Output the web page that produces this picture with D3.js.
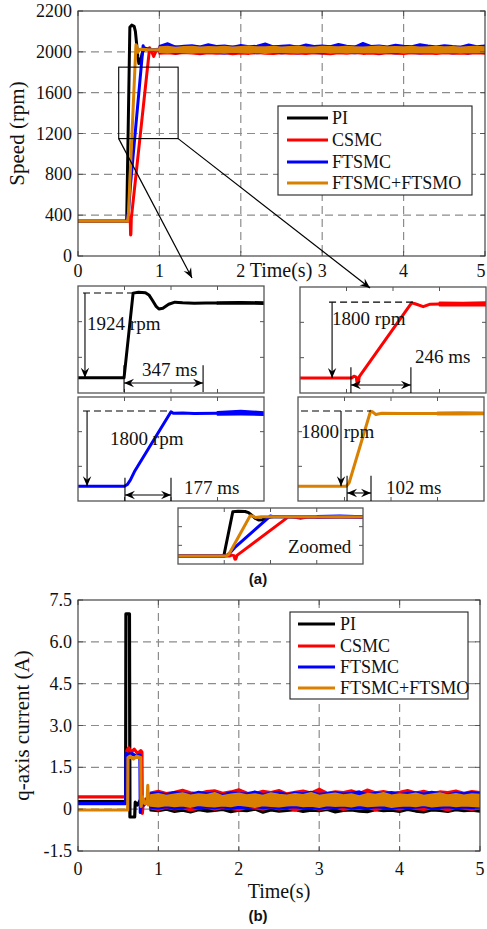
<!DOCTYPE html>
<html><head><meta charset="utf-8">
<script src="https://cdn.jsdelivr.net/npm/d3@7"></script>
<style>
body{margin:0;background:#fff}
svg{display:block}
</style></head><body>
<svg id="c" width="487" height="929" font-family="'Liberation Serif','Tinos','Times New Roman','DejaVu Serif',serif"></svg>
<script>
// ---------------- DATA ----------------
const seriesNames = ["PI","CSMC","FTSMC","FTSMC+FTSMO"];
const seriesColors = ["#000000","#ff0000","#0000ff","#d98000"];

// speed axis ticks (top tick is labelled 2200 in the original figure)
const speedTicks = [0,400,800,1200,1600,2000,2400];
const speedTickLabels = ["0","400","800","1200","1600","2000","2200"];
const timeTicks = [0,1,2,3,4,5];
const currentTicks = [-1.5,0,1.5,3,4.5,6,7.5];
const currentTickLabels = ["-1.5","0","1.5","3.0","4.5","6.0","7.5"];

// speed transients (time s, rpm)
const spdT_PI    = [0,0.598,0.637,0.66,0.69,0.705,0.72,0.735,0.748,0.765,0.79,0.817,0.85,0.9,0.95,1.0];
const spd_PI     = [340,340,2240,2262,2250,2200,2080,1950,1885,1900,1990,2038,2025,2012,2018,2016];
const spdT_CSMC  = [0,0.622,0.632,0.642,0.646,0.65,0.655,0.88,0.895,0.93,0.96,1.0];
const spd_CSMC   = [340,340,380,360,205,215,370,2040,2020,1955,2012,2016];
const spdT_FTSMC = [0,0.600,0.612,0.625,0.645,0.800,0.81,0.85,0.9,1.0];
const spd_FTSMC  = [340,340,380,480,700,2060,2025,2030,2020,2025];
const spdT_FTSMO = [0,0.608,0.62,0.712,0.72,0.735,0.76,0.85,1.0];
const spd_FTSMO  = [340,340,420,2070,2060,1995,2025,2022,2020];

// speed steady-state noise envelopes, sampled every 0.1 s from 1.0 to 5.0 s
const spdSteadyT = [1.0,1.1,1.2,1.3,1.4,1.5,1.6,1.7,1.8,1.9,2.0,2.1,2.2,2.3,2.4,2.5,2.6,2.7,2.8,2.9,3.0,3.1,3.2,3.3,3.4,3.5,3.6,3.7,3.8,3.9,4.0,4.1,4.2,4.3,4.4,4.5,4.6,4.7,4.8,4.9,5.0];
const spdHi_PI = [2040,2045,2038,2042,2050,2040,2036,2044,2048,2039,2042,2046,2040,2052,2038,2044,2041,2047,2039,2045,2050,2040,2043,2038,2046,2049,2041,2037,2044,2048,2042,2039,2045,2051,2040,2043,2038,2046,2042,2040,2044];
const spdLo_PI = [1998,2000,1996,2002,1995,1999,2001,1997,1994,2000,1998,2003,1996,1999,2001,1995,1998,2000,1997,2002,1996,1999,1994,2001,1998,1997,2000,1995,1999,2002,1996,1998,2001,1997,1995,2000,1998,1996,2001,1999,1997];
const spdHi_CSMC = [2050,2045,2055,2048,2058,2052,2046,2056,2049,2054,2047,2056,2050,2045,2058,2051,2048,2057,2044,2053,2049,2056,2046,2052,2055,2048,2058,2050,2045,2054,2049,2056,2047,2053,2050,2056,2045,2052,2056,2049,2051];
const spdLo_CSMC = [1980,1985,1978,1988,1982,1976,1986,1980,1984,1975,1983,1979,1987,1981,1977,1985,1980,1983,1978,1986,1981,1976,1984,1980,1987,1979,1982,1976,1985,1981,1978,1984,1980,1983,1977,1986,1980,1982,1979,1985,1981];
const spdHi_FTSMC = [2058,2085,2052,2060,2066,2054,2075,2058,2063,2050,2068,2056,2060,2082,2054,2060,2066,2052,2072,2058,2063,2055,2078,2060,2052,2088,2058,2064,2054,2070,2060,2056,2076,2062,2054,2066,2058,2052,2074,2056,2062];
const spdLo_FTSMC = [1988,1992,1985,1990,1994,1986,1991,1988,1983,1990,1987,1993,1985,1989,1992,1986,1990,1984,1991,1988,1986,1993,1987,1990,1984,1989,1992,1986,1990,1985,1991,1988,1984,1990,1987,1992,1986,1989,1985,1991,1988];
const spdHi_FTSMO = [2045,2050,2042,2048,2052,2044,2049,2046,2051,2043,2048,2053,2045,2047,2050,2044,2049,2052,2046,2043,2050,2048,2045,2051,2047,2044,2049,2053,2046,2048,2045,2050,2043,2047,2051,2046,2049,2044,2048,2050,2046];
const spdLo_FTSMO = [1995,1991,1997,1993,1989,1996,1992,1994,1990,1997,1993,1991,1995,1988,1994,1996,1992,1990,1995,1993,1997,1991,1994,1989,1996,1992,1995,1990,1993,1997,1991,1994,1992,1996,1989,1993,1995,1991,1994,1992,1996];

// q-axis current transients (time s, A)
const curT_PI    = [0,0.592,0.596,0.640,0.646,0.705,0.712,0.74,0.78,0.82,0.86,0.9];
const cur_PI     = [0.27,0.27,7.0,7.0,-0.28,-0.28,0.25,0.15,0.35,0.2,0.3,0.25];
const curT_CSMC  = [0,0.604,0.608,0.63,0.66,0.70,0.74,0.78,0.795,0.80,0.815,0.84,0.87,0.9];
const cur_CSMC   = [0.44,0.44,2.1,2.2,2.05,2.15,2.0,2.1,2.05,-0.15,0.35,0.2,0.45,0.3];
const curT_FTSMC = [0,0.594,0.598,0.63,0.67,0.72,0.77,0.775,0.79,0.82,0.86,0.9];
const cur_FTSMC  = [0.2,0.2,2.0,1.95,2.0,1.9,1.95,-0.12,0.35,0.15,0.4,0.3];
const curT_FTSMO = [0,0.618,0.622,0.65,0.69,0.73,0.78,0.785,0.80,0.83,0.86,0.868,0.875,0.9];
const cur_FTSMO  = [-0.03,-0.03,1.85,1.9,1.8,1.9,1.85,0.1,0.45,0.2,0.3,0.85,0.15,0.35];

// current steady-state noise envelopes, every 0.1 s from 0.9 to 5.0 s
const curSteadyT = [0.9,1.0,1.1,1.2,1.3,1.4,1.5,1.6,1.7,1.8,1.9,2.0,2.1,2.2,2.3,2.4,2.5,2.6,2.7,2.8,2.9,3.0,3.1,3.2,3.3,3.4,3.5,3.6,3.7,3.8,3.9,4.0,4.1,4.2,4.3,4.4,4.5,4.6,4.7,4.8,4.9,5.0];
const curHi_PI = [0.42,0.45,0.40,0.46,0.43,0.48,0.41,0.44,0.47,0.42,0.45,0.40,0.46,0.43,0.41,0.47,0.44,0.42,0.45,0.48,0.41,0.43,0.46,0.40,0.44,0.47,0.42,0.45,0.43,0.41,0.46,0.44,0.48,0.42,0.45,0.40,0.43,0.47,0.44,0.41,0.45,0.43];
const curLo_PI = [-0.05,-0.08,-0.02,-0.10,-0.06,-0.12,-0.04,-0.09,-0.07,-0.03,-0.11,-0.06,-0.08,-0.02,-0.13,-0.05,-0.09,-0.07,-0.04,-0.10,-0.06,-0.08,-0.03,-0.12,-0.07,-0.05,-0.09,-0.11,-0.04,-0.08,-0.06,-0.10,-0.03,-0.09,-0.12,-0.05,-0.07,-0.10,-0.04,-0.08,-0.06,-0.09];
const curHi_CSMC = [0.60,0.66,0.58,0.63,0.70,0.61,0.57,0.65,0.68,0.59,0.64,0.72,0.60,0.58,0.66,0.62,0.69,0.57,0.63,0.67,0.60,0.74,0.59,0.64,0.62,0.68,0.58,0.71,0.61,0.65,0.59,0.63,0.69,0.60,0.66,0.58,0.64,0.62,0.67,0.59,0.65,0.62];
const curLo_CSMC = [0.02,-0.03,0.04,-0.01,0.03,-0.05,0.01,0.05,-0.02,0.03,0.00,-0.04,0.04,0.02,-0.02,0.05,-0.01,0.03,-0.05,0.02,0.04,-0.02,0.01,0.05,-0.03,0.02,0.00,0.04,-0.04,0.03,0.01,-0.02,0.05,0.00,-0.03,0.03,0.02,-0.05,0.04,0.01,-0.03,0.02];
const curHi_FTSMC = [0.57,0.60,0.54,0.62,0.58,0.55,0.63,0.57,0.60,0.53,0.61,0.58,0.56,0.64,0.55,0.59,0.62,0.54,0.60,0.57,0.63,0.55,0.58,0.61,0.56,0.59,0.64,0.54,0.60,0.57,0.62,0.55,0.59,0.61,0.56,0.63,0.58,0.54,0.60,0.57,0.62,0.58];
const curLo_FTSMC = [0.05,0.02,0.07,0.00,0.04,0.08,0.01,0.06,0.03,0.07,0.00,0.05,0.02,0.08,0.03,0.06,0.01,0.04,0.07,0.02,0.05,0.00,0.06,0.03,0.08,0.02,0.05,0.01,0.07,0.04,0.00,0.06,0.03,0.05,0.08,0.01,0.04,0.07,0.02,0.06,0.03,0.05];
const curHi_FTSMO = [0.50,0.55,0.48,0.53,0.57,0.49,0.54,0.51,0.58,0.47,0.53,0.56,0.50,0.54,0.48,0.57,0.52,0.49,0.55,0.51,0.58,0.48,0.53,0.56,0.50,0.54,0.47,0.55,0.52,0.58,0.49,0.54,0.51,0.56,0.48,0.53,0.57,0.50,0.55,0.49,0.54,0.52];
const curLo_FTSMO = [0.12,0.09,0.14,0.10,0.13,0.08,0.15,0.11,0.09,0.13,0.10,0.16,0.12,0.08,0.14,0.11,0.09,0.13,0.15,0.10,0.12,0.08,0.14,0.11,0.13,0.09,0.15,0.10,0.12,0.14,0.08,0.11,0.13,0.10,0.15,0.09,0.12,0.14,0.10,0.13,0.11,0.09];

// zoom-in panels: time window / rpm window, annotations
const panelTimeDomain = [0.4,1.2];
const panelSpeedDomain = [0,2400];
const panelTimeTicks = [0.6,0.8,1.0];
const panelSpeedTicks = [800,1600];
const annRise = ["1924 rpm","1800 rpm","1800 rpm","1800 rpm"];
const annTime = ["347 ms","246 ms","177 ms","102 ms"];
const annTopLevel = [2243,2057,2077,2077];
const annDash = [[0.4215,0.641],[0.525,0.886],[0.4215,0.80],[0.413,0.714]];
const annArrowT = [0.430,0.538,0.439,0.585];
const annRiseText = [[0.439,1413],[0.538,1537],[0.538,1292],[0.413,1454]];
const annSpan = [[0.598,0.938],[0.619,0.877],[0.602,0.80],[0.611,0.714]];
const annSpanLevel = [224,181,138,185];
const annTimeText = [[0.675,381],[0.895,678],[0.856,162],[0.778,162]];
const zoomRectT = [0.5,1.23];
const zoomRectV = [1150,1850];

// ---------------- DRAW ----------------
const svg = d3.select("#c");
const defs = svg.append("defs");
defs.append("marker").attr("id","ah").attr("viewBox","-11 -5 12 10")
  .attr("refX",0).attr("refY",0).attr("markerWidth",12).attr("markerHeight",10)
  .attr("markerUnits","userSpaceOnUse").attr("orient","auto-start-reverse")
  .append("path").attr("d","M0,0L-10,-4.2L-6.5,0L-10,4.2Z").attr("fill","#000");

const spdT = [spdT_PI,spdT_CSMC,spdT_FTSMC,spdT_FTSMO];
const spdV = [spd_PI,spd_CSMC,spd_FTSMC,spd_FTSMO];
const spdHi = [spdHi_PI,spdHi_CSMC,spdHi_FTSMC,spdHi_FTSMO];
const spdLo = [spdLo_PI,spdLo_CSMC,spdLo_FTSMC,spdLo_FTSMO];
const curT = [curT_PI,curT_CSMC,curT_FTSMC,curT_FTSMO];
const curV = [cur_PI,cur_CSMC,cur_FTSMC,cur_FTSMO];
const curHi = [curHi_PI,curHi_CSMC,curHi_FTSMC,curHi_FTSMO];
const curLo = [curLo_PI,curLo_CSMC,curLo_FTSMC,curLo_FTSMO];

function txt(x,y,s,size,anchor){
  return svg.append("text").attr("x",x).attr("y",y).attr("font-size",size)
    .attr("text-anchor",anchor||"start").attr("fill","#111").text(s);
}

let clipN = 0;
function clipFor(x0,y0,w,h){
  const id = "clip"+(clipN++);
  defs.append("clipPath").attr("id",id).append("rect").attr("x",x0).attr("y",y0).attr("width",w).attr("height",h);
  return "url(#"+id+")";
}

function drawSeries(g,x,y,T,V,ST,SL,SU,color,sw){
  g.append("path").datum(ST.map((t,i)=>[t,SL[i],SU[i]]))
    .attr("d",d3.area().x(d=>x(d[0])).y0(d=>y(d[1])).y1(d=>y(d[2])))
    .attr("fill",color).attr("stroke",color).attr("stroke-width",sw*0.6).attr("stroke-linejoin","round");
  g.append("path").datum(T.map((t,i)=>[t,V[i]]))
    .attr("d",d3.line().x(d=>x(d[0])).y(d=>y(d[1])))
    .attr("fill","none").attr("stroke",color).attr("stroke-width",sw).attr("stroke-linejoin","round");
}

function mainAxes(x,y,xTicks,yTicks,yLabels,xLabelY){
  const [x0,x1] = x.range(), [y0,y1] = y.range(); // y0 bottom
  const g = svg.append("g");
  g.append("rect").attr("x",x0).attr("y",y1).attr("width",x1-x0).attr("height",y0-y1).attr("fill","#fff");
  xTicks.slice(1,-1).forEach(t=>g.append("line").attr("x1",x(t)).attr("x2",x(t)).attr("y1",y1).attr("y2",y0)
    .attr("stroke","#8c8c8c").attr("stroke-width",1.2).attr("stroke-dasharray","8,5"));
  yTicks.slice(1,-1).forEach(v=>g.append("line").attr("x1",x0).attr("x2",x1).attr("y1",y(v)).attr("y2",y(v))
    .attr("stroke","#8c8c8c").attr("stroke-width",1.2).attr("stroke-dasharray","8,5"));
  xTicks.forEach(t=>txt(Math.min(x(t),481),xLabelY,String(t),18,"middle"));
  yTicks.forEach((v,i)=>txt(x0-6,y(v)+6,yLabels[i],18,"end"));
}
function mainFrame(x,y,xTicks,yTicks){
  const [x0,x1] = x.range(), [y0,y1] = y.range();
  const g = svg.append("g");
  xTicks.forEach(t=>{
    g.append("line").attr("x1",x(t)).attr("x2",x(t)).attr("y1",y0).attr("y2",y0-5).attr("stroke","#555");
    g.append("line").attr("x1",x(t)).attr("x2",x(t)).attr("y1",y1).attr("y2",y1+5).attr("stroke","#555");
  });
  yTicks.forEach(v=>{
    g.append("line").attr("x1",x0).attr("x2",x0+5).attr("y1",y(v)).attr("y2",y(v)).attr("stroke","#555");
    g.append("line").attr("x1",x1).attr("x2",x1-5).attr("y1",y(v)).attr("y2",y(v)).attr("stroke","#555");
  });
  g.append("rect").attr("x",x0).attr("y",y1).attr("width",x1-x0).attr("height",y0-y1)
    .attr("fill","none").attr("stroke","#333").attr("stroke-width",1.1);
}
function legend(x0,y0,w,h,lineX0,lineX1,textX,rowY){
  const g = svg.append("g");
  g.append("rect").attr("x",x0).attr("y",y0).attr("width",w).attr("height",h)
    .attr("fill","#fff").attr("stroke","#222").attr("stroke-width",1.1);
  seriesNames.forEach((n,i)=>{
    g.append("line").attr("x1",lineX0).attr("x2",lineX1).attr("y1",rowY[i]).attr("y2",rowY[i])
      .attr("stroke",seriesColors[i]).attr("stroke-width",3);
    txt(textX,rowY[i]+6,n,18);
  });
}

// ===== (a) speed =====
const xS = d3.scaleLinear().domain([0,5]).range([78,485]);
const yS = d3.scaleLinear().domain([0,2400]).range([256,11]);
mainAxes(xS,yS,timeTicks,speedTicks,speedTickLabels,277);
const gS = svg.append("g").attr("clip-path",clipFor(78,11,407,245));
for(let i=0;i<4;i++) drawSeries(gS,xS,yS,spdT[i],spdV[i],spdSteadyT,spdLo[i],spdHi[i],seriesColors[i],3);
mainFrame(xS,yS,timeTicks,speedTicks);
svg.append("text").attr("transform","translate(24,"+((256+11)/2)+") rotate(-90)")
  .attr("text-anchor","middle").attr("font-size",21).attr("fill","#111").text("Speed (rpm)");
txt(281,277,"Time(s)",20,"middle");
const rx0 = xS(zoomRectT[0]), rx1 = xS(zoomRectT[1]), ry0 = yS(zoomRectV[1]), ry1 = yS(zoomRectV[0]);
svg.append("rect").attr("x",rx0).attr("y",ry0).attr("width",rx1-rx0).attr("height",ry1-ry0)
  .attr("fill","none").attr("stroke","#000").attr("stroke-width",1.1);
legend(278,106,194,89,287,328,332,[118,140,162,183]);

// ===== zoom panels =====
const panelBoxes = [
  {x:78,y:286,w:186,h:107},
  {x:300,y:287,w:186,h:106},
  {x:78,y:397,w:186,h:104},
  {x:298,y:397,w:186,h:104}
];
function panelFrame(px,py,b){
  const g = svg.append("g");
  panelTimeTicks.forEach(t=>{
    g.append("line").attr("x1",px(t)).attr("x2",px(t)).attr("y1",b.y+b.h).attr("y2",b.y+b.h-4).attr("stroke","#555");
    g.append("line").attr("x1",px(t)).attr("x2",px(t)).attr("y1",b.y).attr("y2",b.y+4).attr("stroke","#555");
  });
  panelSpeedTicks.forEach(v=>{
    g.append("line").attr("x1",b.x).attr("x2",b.x+4).attr("y1",py(v)).attr("y2",py(v)).attr("stroke","#555");
    g.append("line").attr("x1",b.x+b.w).attr("x2",b.x+b.w-4).attr("y1",py(v)).attr("y2",py(v)).attr("stroke","#555");
  });
  g.append("rect").attr("x",b.x).attr("y",b.y).attr("width",b.w).attr("height",b.h)
    .attr("fill","none").attr("stroke","#555").attr("stroke-width",1.3);
}
panelBoxes.forEach((b,i)=>{
  svg.append("rect").attr("x",b.x).attr("y",b.y).attr("width",b.w).attr("height",b.h).attr("fill","#fff");
  const px = d3.scaleLinear().domain(panelTimeDomain).range([b.x,b.x+b.w]);
  const py = d3.scaleLinear().domain(panelSpeedDomain).range([b.y+b.h,b.y]);
  const g = svg.append("g").attr("clip-path",clipFor(b.x,b.y,b.w,b.h));
  drawSeries(g,px,py,spdT[i],spdV[i],spdSteadyT,spdLo[i],spdHi[i],seriesColors[i],3);
  panelFrame(px,py,b);
  const a = svg.append("g").attr("stroke","#000").attr("stroke-width",1.1).attr("fill","none");
  a.append("line").attr("x1",px(annDash[i][0])).attr("x2",px(annDash[i][1]))
    .attr("y1",py(annTopLevel[i])).attr("y2",py(annTopLevel[i])).attr("stroke-dasharray","7,4");
  a.append("line").attr("x1",px(annArrowT[i])).attr("x2",px(annArrowT[i]))
    .attr("y1",py(annTopLevel[i])).attr("y2",py(spdV[i][0])).attr("marker-end","url(#ah)");
  a.append("line").attr("x1",px(annSpan[i][0])).attr("x2",px(annSpan[i][1]))
    .attr("y1",py(annSpanLevel[i])).attr("y2",py(annSpanLevel[i]))
    .attr("marker-end","url(#ah)").attr("marker-start","url(#ah)");
  annSpan[i].forEach(t=>a.append("line").attr("x1",px(t)).attr("x2",px(t))
    .attr("y1",py(annSpanLevel[i]+400)).attr("y2",py(Math.max(0,annSpanLevel[i]-200))));
  txt(px(annRiseText[i][0]),py(annRiseText[i][1]),annRise[i],19);
  txt(px(annTimeText[i][0]),py(annTimeText[i][1]),annTime[i],19);
});

{
  const b = {x:178,y:508,w:185,h:56};
  svg.append("rect").attr("x",b.x).attr("y",b.y).attr("width",b.w).attr("height",b.h).attr("fill","#fff");
  const px = d3.scaleLinear().domain(panelTimeDomain).range([b.x,b.x+b.w]);
  const py = d3.scaleLinear().domain(panelSpeedDomain).range([b.y+b.h,b.y]);
  const g = svg.append("g").attr("clip-path",clipFor(b.x,b.y,b.w,b.h));
  for(let i=0;i<4;i++) drawSeries(g,px,py,spdT[i],spdV[i],spdSteadyT,spdLo[i],spdHi[i],seriesColors[i],3);
  panelFrame(px,py,b);
  txt(288,553,"Zoomed",19);
}

svg.append("line").attr("x1",rx0).attr("y1",ry1).attr("x2",192).attr("y2",278)
  .attr("stroke","#000").attr("stroke-width",1.2).attr("marker-end","url(#ah)");
svg.append("line").attr("x1",rx1).attr("y1",ry1).attr("x2",370).attr("y2",288)
  .attr("stroke","#000").attr("stroke-width",1.2).attr("marker-end","url(#ah)");

txt(258,584,"(a)",15,"middle").attr("font-family","'Liberation Sans',Arial,sans-serif").attr("font-weight","bold");

// ===== (b) current =====
const xC = d3.scaleLinear().domain([0,5]).range([78,480]);
const yC = d3.scaleLinear().domain([-1.5,7.5]).range([851,600]);
mainAxes(xC,yC,timeTicks,currentTicks,currentTickLabels,875);
const gC = svg.append("g").attr("clip-path",clipFor(78,600,402,251));
for(let i=0;i<4;i++) drawSeries(gC,xC,yC,curT[i],curV[i],curSteadyT,curLo[i],curHi[i],seriesColors[i],3.2);
mainFrame(xC,yC,timeTicks,currentTicks);
svg.append("text").attr("transform","translate(29,"+((851+600)/2)+") rotate(-90)")
  .attr("text-anchor","middle").attr("font-size",21).attr("fill","#111").text("q-axis current (A)");
txt(279,898,"Time(s)",20,"middle");
legend(290,612,178,87,298,335,340,[624,646,667,688]);
txt(258,921,"(b)",15,"middle").attr("font-family","'Liberation Sans',Arial,sans-serif").attr("font-weight","bold");
</script>
</body></html>
